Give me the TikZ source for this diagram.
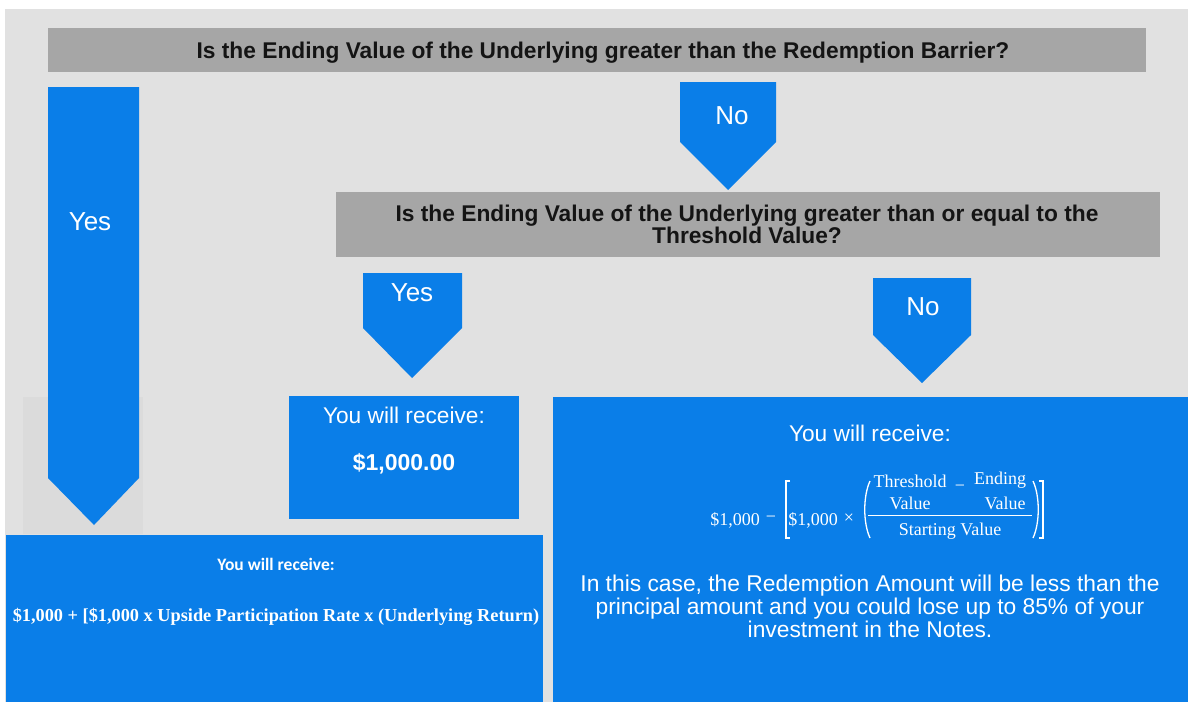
\documentclass[tikz,border=0pt]{standalone}
\usepackage{fontspec}
\setmainfont{Liberation Sans}
\newfontfamily\frmfont{Liberation Serif}
\newfontfamily\calfont{Carlito}
\definecolor{bgg}{HTML}{E1E1E1}
\definecolor{barg}{HTML}{A6A6A6}
\definecolor{blu}{HTML}{0A7EE8}
\definecolor{shadeg}{HTML}{DBDBDB}
\definecolor{qtext}{HTML}{141414}
\begin{document}
\begin{tikzpicture}[x=1pt,y=-1pt,
  q/.style={font=\fontsize{22.75}{22}\selectfont\bfseries, text=qtext, inner sep=0, anchor=base},
  lbl/.style={font=\fontsize{26}{26}\selectfont, text=white, inner sep=0},
  wt/.style={font=\fontsize{22.7}{23}\selectfont, text=white, inner sep=0},
  para/.style={font=\fontsize{22.8}{23}\selectfont, text=white, inner sep=0, anchor=base},
  fm/.style={font=\frmfont\fontsize{18}{18}\selectfont, text=white, inner sep=0},
  arrowshape/.style={fill=blu},
  boxshape/.style={fill=blu},
  brk/.style={draw=white, line width=1.7pt},
  ]
\useasboundingbox (0,0) rectangle (1188,702);
\fill[white] (0,0) rectangle (1188,702);
\fill[bgg] (5,9) rectangle (1188,702);
\fill[shadeg] (23,397) rectangle (143,534);

% first question
\fill[barg] (48,28) rectangle (1146,72);
\node[q] (q1) at (603,58) {Is the Ending Value of the Underlying greater than the Redemption Barrier?};

% left Yes arrow
\fill[arrowshape] (48,87) -- (139,87) -- (139,478) -- (94,525) -- (48,478) -- cycle;
\node[lbl] (yes1) at (90,222) {Yes};

% No arrow 1
\fill[arrowshape] (680,82) -- (776,82) -- (776,142) -- (728,190) -- (680,142) -- cycle;
\node[lbl] (no1) at (732,116) {No};

% second question
\fill[barg] (336,192) rectangle (1160,257);
\node[q] (q2a) at (747,221) {Is the Ending Value of the Underlying greater than or equal to the};
\node[q] (q2b) at (747,243) {Threshold Value?};

% Yes arrow 2
\fill[arrowshape] (363,273) -- (462,273) -- (462,328) -- (412,378) -- (363,328) -- cycle;
\node[lbl] (yes2) at (412,293) {Yes};

% No arrow 2
\fill[arrowshape] (873,278) -- (971,278) -- (971,335) -- (922,383) -- (873,335) -- cycle;
\node[lbl] (no2) at (923,307) {No};

% $1,000.00 box
\fill[boxshape] (289,396) rectangle (519,519);
\node[wt] (r2a) at (404,415) {You will receive:};
\node[wt, font=\fontsize{23}{23}\selectfont\bfseries] (r2b) at (404,464) {\$1,000.00};

% left bottom box
\fill[boxshape] (6,535) rectangle (543,702);
\node[font=\calfont\fontsize{17.5}{18}\selectfont\bfseries, text=white, inner sep=0] (r1a) at (276,564) {You will receive:};
\node[font=\frmfont\fontsize{18.3}{18}\selectfont\bfseries, text=white, inner sep=0] (r1b) at (276,617) {\$1,000 + [\$1,000 x Upside Participation Rate x (Underlying Return)};

% right bottom box
\fill[boxshape] (553,397) rectangle (1188,702);
\node[wt] (r3a) at (870,433) {You will receive:};

% formula
\node[fm] (f1) at (735,520) {\$1,000};
\node[fm] (f2) at (771,519) {−};
\draw[brk] (790,481) -- (786,481) -- (786,538) -- (790,538);
\node[fm] (f3) at (813,520) {\$1,000};
\node[fm] (f4) at (849,519) {×};
\draw[brk, line width=1.3pt] (870,481) .. controls (863,496) and (863,523) .. (870,538);
\node[fm] (f5) at (910,481) {Threshold};
\node[fm] (f6) at (960,488) {−};
\node[fm] (f7) at (1000,480) {Ending};
\node[fm] (f8) at (910,503) {Value};
\node[fm] (f9) at (1005,503) {Value};
\draw[white, line width=1pt] (868,515) -- (1032,515);
\node[fm] (f10) at (950,531) {Starting Value};
\draw[brk, line width=1.3pt] (1033,481) .. controls (1040,496) and (1040,523) .. (1033,538);
\draw[brk] (1039,481) -- (1043,481) -- (1043,538) -- (1039,538);

\node[para] (p1) at (870,591) {In this case, the Redemption Amount will be less than the};
\node[para] (p2) at (870,614) {principal amount and you could lose up to 85\% of your};
\node[para] (p3) at (870,637) {investment in the Notes.};
\end{tikzpicture}
\end{document}
